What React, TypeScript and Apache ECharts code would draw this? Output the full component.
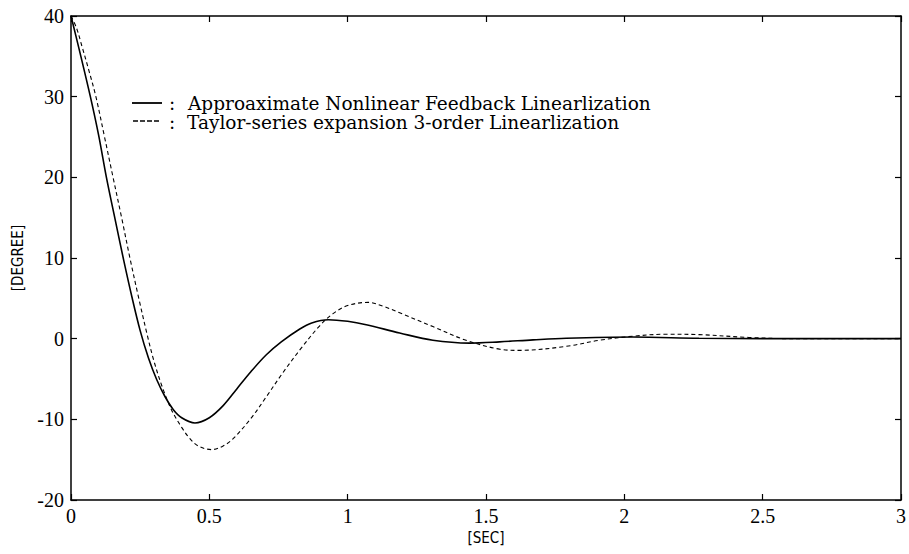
import React, { useEffect, useRef } from "react";
import * as echarts from "echarts";

// Time (s) and angle (degree) samples
const tApprox = [0, 0.03, 0.07, 0.1, 0.128, 0.16, 0.19, 0.22, 0.25, 0.28, 0.31, 0.34, 0.37, 0.4, 0.448, 0.5, 0.55, 0.6, 0.65, 0.706, 0.76, 0.827, 0.87, 0.93, 1.0, 1.067, 1.188, 1.308, 1.44, 1.549, 1.67, 1.79, 2.03, 2.27, 2.5, 3.0];
const yApprox = [40, 35.8, 30, 25.2, 20, 14.7, 9.8, 5.2, 1.0, -2.4, -5.1, -7.2, -8.8, -9.8, -10.45, -9.8, -8.3, -6.2, -4.1, -2, -0.4, 1.2, 1.95, 2.35, 2.15, 1.73, 0.7, -0.2, -0.55, -0.4, -0.15, 0.05, 0.2, 0.05, 0, 0];

const tTaylor = [0, 0.02, 0.04, 0.065, 0.09, 0.12, 0.152, 0.183, 0.213, 0.245, 0.276, 0.3, 0.33, 0.363, 0.4, 0.43, 0.46, 0.508, 0.55, 0.586, 0.65, 0.706, 0.76, 0.827, 0.899, 0.947, 1.0, 1.073, 1.13, 1.188, 1.308, 1.428, 1.549, 1.621, 1.79, 1.91, 2.03, 2.15, 2.27, 2.45, 2.6, 3.0];
const yTaylor = [40, 38.5, 36.2, 33.2, 30, 25.2, 20, 15, 10, 5.0, 0.4, -2.8, -6.0, -8.8, -11.0, -12.4, -13.3, -13.75, -13.3, -12.4, -9.9, -7.2, -4.5, -1.4, 1.6, 3.1, 4.1, 4.5, 4.0, 3.2, 1.5, -0.2, -1.3, -1.45, -0.95, -0.2, 0.3, 0.55, 0.5, 0.15, 0, 0];

const legendApprox = "Approaximate Nonlinear Feedback Linearlization";
const legendTaylor = "Taylor-series expansion 3-order Linearlization";

const xName = "[SEC]";
const yName = "[DEGREE]";

const serifFamily = "Liberation Serif";
const tickFont = { fontFamily: serifFamily, fontSize: 20, color: "#000" };
const nameFont = { fontFamily: "DejaVu Sans Condensed", fontSize: 15, color: "#000" };
const legendFont = "18.5px 'DejaVu Serif', serif";

export default function App() {
  const ref = useRef<HTMLDivElement>(null);
  useEffect(() => {
    if (!ref.current) return;
    const chart = echarts.init(ref.current, undefined, { renderer: "svg" });
    const zip = (a: number[], b: number[]) => a.map((v, i) => [v, b[i]]);
    const axisLine = { show: true, onZero: false, lineStyle: { color: "#000", width: 1.5 } };
    const tick = { show: true, inside: true, length: 6, lineStyle: { color: "#000", width: 1.2 } };
    chart.setOption({
      animation: false,
      backgroundColor: "#fff",
      textStyle: { fontFamily: serifFamily },
      grid: { left: 71, right: 7, top: 16, bottom: 54, containLabel: false },
      xAxis: [
        {
          type: "value", min: 0, max: 3, interval: 0.5, position: "bottom",
          axisLine, axisTick: tick, splitLine: { show: false },
          axisLabel: { ...tickFont, margin: 6 },
          name: xName, nameLocation: "middle", nameGap: 23, nameTextStyle: nameFont,
        },
        {
          type: "value", min: 0, max: 3, interval: 0.5, position: "top",
          axisLine, axisTick: tick, splitLine: { show: false }, axisLabel: { show: false },
        },
      ],
      yAxis: [
        {
          type: "value", min: -20, max: 40, interval: 10, position: "left",
          axisLine, axisTick: tick, splitLine: { show: false },
          axisLabel: { ...tickFont, margin: 7 },
          name: yName, nameLocation: "middle", nameGap: 46, nameRotate: 90, nameTextStyle: nameFont,
        },
        {
          type: "value", min: -20, max: 40, interval: 10, position: "right",
          axisLine, axisTick: tick, splitLine: { show: false }, axisLabel: { show: false },
        },
      ],
      series: [
        {
          name: legendApprox, type: "line", data: zip(tApprox, yApprox), smooth: 0.35,
          showSymbol: false, lineStyle: { color: "#000", width: 1.6, type: "solid" },
        },
        {
          name: legendTaylor, type: "line", data: zip(tTaylor, yTaylor), smooth: 0.35,
          showSymbol: false, lineStyle: { color: "#000", width: 1.1, type: [4, 3] },
        },
      ],
      graphic: [
        { type: "line", shape: { x1: 132, y1: 103, x2: 162, y2: 103 }, style: { stroke: "#000", lineWidth: 1.8 } },
        { type: "line", shape: { x1: 133, y1: 121, x2: 159, y2: 121 }, style: { stroke: "#000", lineWidth: 1.5, lineDash: [5, 2] } },
        { type: "text", x: 169, y: 103, style: { text: ":", font: legendFont, fill: "#000", verticalAlign: "middle" } },
        { type: "text", x: 169, y: 122, style: { text: ":", font: legendFont, fill: "#000", verticalAlign: "middle" } },
        { type: "text", x: 188, y: 103, style: { text: legendApprox, font: legendFont, fill: "#000", verticalAlign: "middle" } },
        { type: "text", x: 187, y: 122, style: { text: legendTaylor, font: legendFont, fill: "#000", verticalAlign: "middle" } },
      ],
    });
    return () => chart.dispose();
  }, []);
  return <div ref={ref} style={{ position: "fixed", left: 0, top: 0, width: 909, height: 554, background: "#fff" }} />;
}
